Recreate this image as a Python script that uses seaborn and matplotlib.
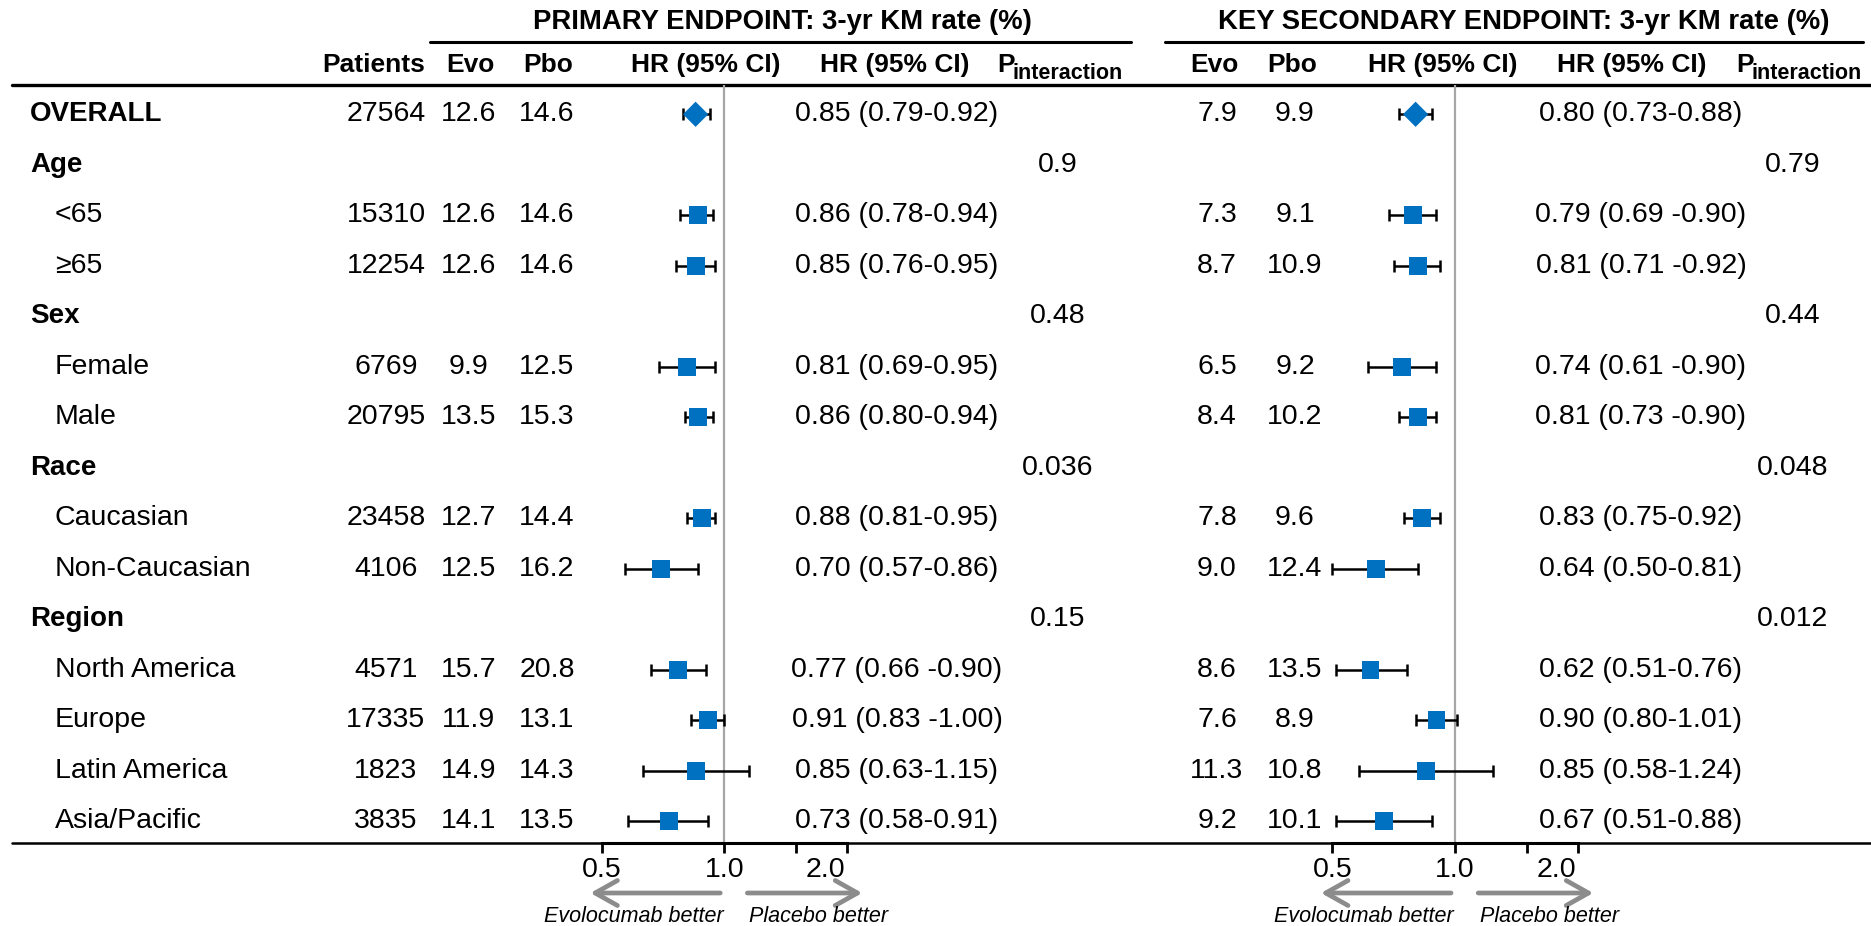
import numpy as np
import pandas as pd
import matplotlib
matplotlib.use('Agg')
import matplotlib.pyplot as plt
import seaborn as sns
from matplotlib.transforms import blended_transform_factory

sns.set_theme(style='white')
plt.rcParams['font.family'] = ['Liberation Sans', 'DejaVu Sans']
plt.rcParams['text.color'] = 'black'
plt.rcParams['xtick.color'] = 'black'
plt.rcParams['axes.labelcolor'] = 'black'

nan = np.nan

# Rows of the table
labels = ['OVERALL', 'Age', '<65', '\u226565', 'Sex', 'Female', 'Male', 'Race',
          'Caucasian', 'Non-Caucasian', 'Region', 'North America', 'Europe',
          'Latin America', 'Asia/Pacific']
is_group = [True, True, False, False, True, False, False, True,
            False, False, True, False, False, False, False]
patients = ['27564', '', '15310', '12254', '', '6769', '20795', '',
            '23458', '4106', '', '4571', '17335', '1823', '3835']

# Primary endpoint
prim_evo = [12.6, nan, 12.6, 12.6, nan, 9.9, 13.5, nan, 12.7, 12.5, nan, 15.7, 11.9, 14.9, 14.1]
prim_pbo = [14.6, nan, 14.6, 14.6, nan, 12.5, 15.3, nan, 14.4, 16.2, nan, 20.8, 13.1, 14.3, 13.5]
prim_hr = [0.85, nan, 0.86, 0.85, nan, 0.81, 0.86, nan, 0.88, 0.70, nan, 0.77, 0.91, 0.85, 0.73]
prim_lo = [0.79, nan, 0.78, 0.76, nan, 0.69, 0.80, nan, 0.81, 0.57, nan, 0.66, 0.83, 0.63, 0.58]
prim_hi = [0.92, nan, 0.94, 0.95, nan, 0.95, 0.94, nan, 0.95, 0.86, nan, 0.90, 1.00, 1.15, 0.91]
prim_ci_text = ['0.85 (0.79-0.92)', '', '0.86 (0.78-0.94)', '0.85 (0.76-0.95)', '',
                '0.81 (0.69-0.95)', '0.86 (0.80-0.94)', '', '0.88 (0.81-0.95)',
                '0.70 (0.57-0.86)', '', '0.77 (0.66 -0.90)', '0.91 (0.83 -1.00)',
                '0.85 (0.63-1.15)', '0.73 (0.58-0.91)']
prim_p = ['', '0.9', '', '', '0.48', '', '', '0.036', '', '', '0.15', '', '', '', '']

# Key secondary endpoint
sec_evo = [7.9, nan, 7.3, 8.7, nan, 6.5, 8.4, nan, 7.8, 9.0, nan, 8.6, 7.6, 11.3, 9.2]
sec_pbo = [9.9, nan, 9.1, 10.9, nan, 9.2, 10.2, nan, 9.6, 12.4, nan, 13.5, 8.9, 10.8, 10.1]
sec_hr = [0.80, nan, 0.79, 0.81, nan, 0.74, 0.81, nan, 0.83, 0.64, nan, 0.62, 0.90, 0.85, 0.67]
sec_lo = [0.73, nan, 0.69, 0.71, nan, 0.61, 0.73, nan, 0.75, 0.50, nan, 0.51, 0.80, 0.58, 0.51]
sec_hi = [0.88, nan, 0.90, 0.92, nan, 0.90, 0.90, nan, 0.92, 0.81, nan, 0.76, 1.01, 1.24, 0.88]
sec_ci_text = ['0.80 (0.73-0.88)', '', '0.79 (0.69 -0.90)', '0.81 (0.71 -0.92)', '',
               '0.74 (0.61 -0.90)', '0.81 (0.73 -0.90)', '', '0.83 (0.75-0.92)',
               '0.64 (0.50-0.81)', '', '0.62 (0.51-0.76)', '0.90 (0.80-1.01)',
               '0.85 (0.58-1.24)', '0.67 (0.51-0.88)']
sec_p = ['', '0.79', '', '', '0.44', '', '', '0.048', '', '', '0.012', '', '', '', '']

BLUE = '#0070C0'
FS = 20.5      # body text
FSB = 20       # bold group labels
FSH = 19       # column headers
W, H = 1871, 926

fig = plt.figure(figsize=(W / 100, H / 100), dpi=100)
bg = fig.add_axes([0, 0, 1, 1])
bg.set_xlim(0, W)
bg.set_ylim(H, 0)
bg.axis('off')

top_px, bot_px = 85, 843
n = len(labels)


def forest(x0, x1, hr, lo, hi):
    ax = fig.add_axes([x0 / W, (H - bot_px) / H, (x1 - x0) / W, (bot_px - top_px) / H])
    ax.patch.set_alpha(0)
    df = pd.DataFrame({'row': np.arange(n), 'hr': hr, 'lo': lo, 'hi': hi})
    df['kind'] = ['overall'] + ['sub'] * (n - 1)
    df = df.dropna()
    ax.errorbar(df['hr'], df['row'], xerr=[df['hr'] - df['lo'], df['hi'] - df['hr']],
                fmt='none', ecolor='black', elinewidth=1.8, capsize=4.3, capthick=1.8,
                zorder=2, clip_on=False)
    sns.scatterplot(data=df, x='hr', y='row', style='kind',
                    markers={'overall': 'D', 'sub': 's'}, s=165, color=BLUE,
                    linewidth=0, legend=False, ax=ax, zorder=3, clip_on=False)
    ax.axvline(1.0, color='#A6A6A6', lw=1.6, zorder=1)
    ax.set_xscale('log')
    ax.set_xlim(0.5, 2.0)
    ax.set_ylim(n - 0.57, -0.58)
    ax.set_yticks([])
    ax.set_xlabel('')
    ax.set_ylabel('')
    for s in ['top', 'left', 'right']:
        ax.spines[s].set_visible(False)
    ax.spines['bottom'].set_linewidth(2.2)
    ax.spines['bottom'].set_color('black')
    ax.set_xticks([0.5, 1.0, 1.5, 2.0], labels=['0.5', '1.0', '', ''])
    ax.set_xticks([1.77], labels=['2.0'], minor=True)
    ax.tick_params(axis='x', which='major', direction='out', length=7, width=2,
                   color='black', labelsize=FS, pad=3, bottom=True)
    ax.tick_params(axis='x', which='minor', length=0, labelsize=FS, pad=10, bottom=True)

    # direction arrows under the axis
    tr = blended_transform_factory(ax.transData, bg.transData)
    arrow = dict(arrowstyle='->,head_length=0.8,head_width=0.45', lw=3.4,
                 color='#8C8C8C', mutation_scale=20, shrinkA=0, shrinkB=0)
    ax.annotate('', xy=(0.469, 893), xytext=(0.977, 893), xycoords=tr,
                textcoords=tr, arrowprops=arrow, annotation_clip=False)
    ax.annotate('', xy=(2.18, 893), xytext=(1.139, 893), xycoords=tr,
                textcoords=tr, arrowprops=arrow, annotation_clip=False)
    ax.text(0.598, 922, 'Evolocumab better', transform=tr, ha='center',
            va='baseline', fontsize=15.5, style='italic', clip_on=False)
    ax.text(1.70, 922, 'Placebo better', transform=tr, ha='center',
            va='baseline', fontsize=15.5, style='italic', clip_on=False)
    return ax


ax1 = forest(601.7, 847, prim_hr, prim_lo, prim_hi)
ax2 = forest(1332.3, 1578, sec_hr, sec_lo, sec_hi)

# table rules
bg.plot([430, 1131], [41.7, 41.7], color='black', lw=2.2)
bg.plot([1165, 1863], [41.7, 41.7], color='black', lw=2.2)
bg.plot([12, W], [top_px, top_px], color='black', lw=2.4)
bg.plot([12, W], [bot_px, bot_px], color='black', lw=1.8)

# titles and column headers
bg.text(782, 22, 'PRIMARY ENDPOINT: 3-yr KM rate (%)', ha='center', va='center',
        fontsize=19.8, fontweight='bold')
bg.text(1524, 22, 'KEY SECONDARY ENDPOINT: 3-yr KM rate (%)', ha='center', va='center',
        fontsize=19.8, fontweight='bold')
headers = [(374, 'Patients'), (470, 'Evo'), (548, 'Pbo'), (706, 'HR (95% CI)'),
           (895, 'HR (95% CI)'), (1214, 'Evo'), (1292, 'Pbo'),
           (1443, 'HR (95% CI)'), (1632, 'HR (95% CI)')]
for x, t in headers:
    bg.text(x, 72, t, ha='center', va='baseline', fontsize=FSH, fontweight='bold')
for xp in [997, 1736]:
    bg.text(xp, 72, 'P', ha='left', va='baseline', fontsize=FSH, fontweight='bold')
    bg.text(xp + 16, 79, 'interaction', ha='left', va='baseline', fontsize=15.5,
            fontweight='bold')

# table body
tr = blended_transform_factory(bg.transData, ax1.transData)
for i in range(n):
    bold = is_group[i]
    bg.text(30 if bold else 55, i, labels[i], transform=tr, ha='left', va='center',
            fontsize=FSB if bold else FS, fontweight='bold' if bold else 'normal')
    bg.text(386, i, patients[i], transform=tr, ha='center', va='center', fontsize=FS)
    for x, v in [(469, prim_evo[i]), (547, prim_pbo[i]), (1217, sec_evo[i]), (1295, sec_pbo[i])]:
        if not np.isnan(v):
            bg.text(x, i, f'{v:.1f}', transform=tr, ha='center', va='center', fontsize=FS)
    for x, t in [(897, prim_ci_text[i]), (1058, prim_p[i]), (1641, sec_ci_text[i]), (1793, sec_p[i])]:
        bg.text(x, i, t, transform=tr, ha='center', va='center', fontsize=FS)

fig.savefig('out.png', dpi=100)
